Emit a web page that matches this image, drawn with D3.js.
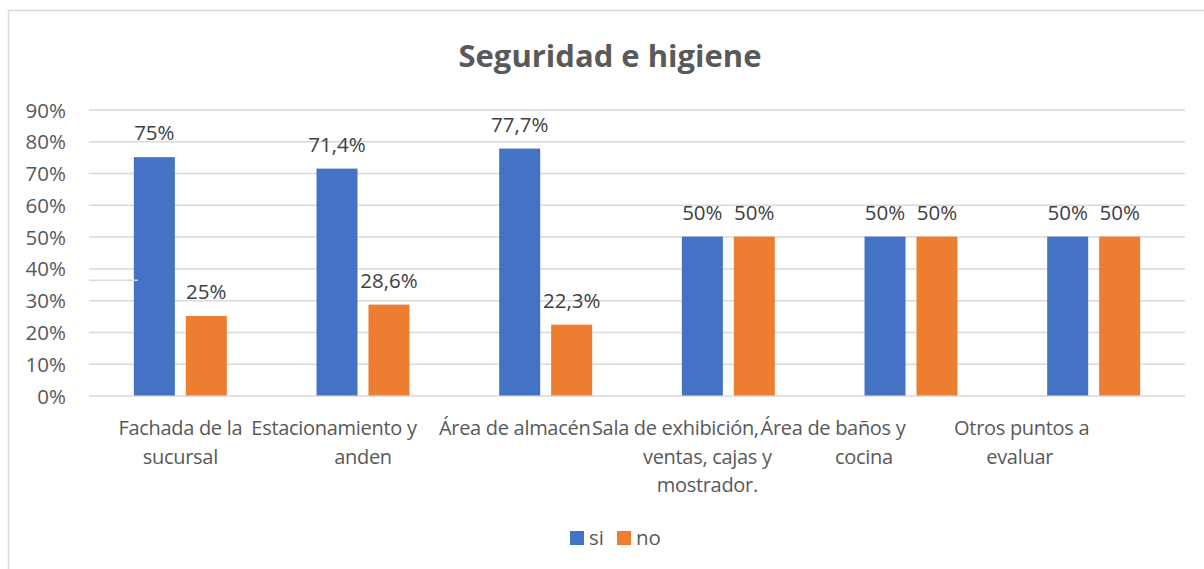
<!DOCTYPE html>
<html>
<head>
<meta charset="utf-8">
<script src="https://cdn.jsdelivr.net/npm/d3@7"></script>
<style>
  html, body { margin: 0; padding: 0; background: #fff; }
  svg { display: block; font-family: "Open Sans", sans-serif; }
</style>
</head>
<body>
<svg id="chart" width="1204" height="569"></svg>
<script>
// Chart data
const title = "Seguridad e higiene";
const categories = [
  "Fachada de la sucursal",
  "Estacionamiento y anden",
  "Área de almacén",
  "Sala de exhibición, ventas, cajas y mostrador.",
  "Área de baños y cocina",
  "Otros puntos a evaluar"
];
// Wrapped lines of each category label
const categoryLines = [
  ["Fachada de la", "sucursal"],
  ["Estacionamiento y", "anden"],
  ["Área de almacén"],
  ["Sala de exhibición,", "ventas, cajas y", "mostrador."],
  ["Área de baños y", "cocina"],
  ["Otros puntos a", "evaluar"]
];
const seriesNames = ["si", "no"];
const siValues = [0.75, 0.714, 0.777, 0.5, 0.5, 0.5];
const noValues = [0.25, 0.286, 0.223, 0.5, 0.5, 0.5];
const yTicks = [0, 0.1, 0.2, 0.3, 0.4, 0.5, 0.6, 0.7, 0.8, 0.9];

// Layout
const W = 1204, H = 569;
const plot = { left: 89, right: 1185, top: 109.5, bottom: 395.5 };
const colors = { si: "#4472C4", no: "#ED7D31" };
const gridColor = "#D9D9D9";
const axisText = "#595959";
const labelText = "#404040";
const fontSize = 20.5;
const catFontSize = 20;
// horizontal shift (px) applied to each wrapped label line
const lineShift = [
  [0, 0],
  [-29, 0],
  [-31],
  [-53, -21, -21],
  [-78, -47],
  [-72, -74]
];

const svg = d3.select("#chart");

const locale = d3.formatLocale({ decimal: ",", thousands: ".", grouping: [3], currency: ["", "€"] });
const fmtValue = locale.format(".1~%");
const fmtTick = locale.format(".0%");

const x = d3.scaleBand().domain(categories).range([plot.left, plot.right]).paddingInner(0).paddingOuter(0);
const y = d3.scaleLinear().domain([0, 0.9]).range([plot.bottom, plot.top]);

const bw = x.bandwidth();
const barW = bw * 0.2245;
const barGap = bw * 0.06;

// Outer frame
svg.append("rect")
  .attr("x", 8.5).attr("y", 10.5)
  .attr("width", W + 20).attr("height", H + 20)
  .attr("fill", "none").attr("stroke", gridColor).attr("stroke-width", 1.5);

// Title
svg.append("text")
  .attr("x", 610).attr("y", 67)
  .attr("text-anchor", "middle")
  .attr("font-size", 31).attr("font-weight", "bold")
  .attr("fill", axisText)
  .text(title);

// Gridlines and y tick labels
const yAxis = d3.axisLeft(y).tickValues(yTicks).tickFormat(fmtTick)
  .tickSize(-(plot.right - plot.left)).tickPadding(23);
const gy = svg.append("g").attr("transform", `translate(${plot.left},0)`).call(yAxis);
gy.select(".domain").remove();
gy.selectAll(".tick line").attr("stroke", gridColor).attr("stroke-width", 1.5);
gy.selectAll(".tick text")
  .attr("font-family", "Open Sans, sans-serif")
  .attr("font-size", fontSize).attr("fill", axisText)
  .attr("dy", null).attr("y", 7.5);

// Bars
const rows = categories.map((c, i) => ({ cat: c, si: siValues[i], no: noValues[i] }));
const barX = (d, key) => {
  const cx = x(d.cat) + bw / 2;
  return key === "si" ? cx - barGap / 2 - barW : cx + barGap / 2;
};

seriesNames.forEach(key => {
  svg.append("g").selectAll("rect")
    .data(rows).join("rect")
    .attr("x", d => barX(d, key))
    .attr("y", d => y(d[key]))
    .attr("width", barW)
    .attr("height", d => y(0) - y(d[key]))
    .attr("fill", colors[key]);
});

// short grey stroke left over across the first bar
svg.append("line")
  .attr("x1", plot.left).attr("x2", barX(rows[0], "si") + 4)
  .attr("y1", y(0.363)).attr("y2", y(0.363))
  .attr("stroke", gridColor).attr("stroke-width", 1.5);

// Value labels
seriesNames.forEach(key => {
  svg.append("g").selectAll("text")
    .data(rows).join("text")
    .attr("x", d => barX(d, key) + barW / 2)
    .attr("y", d => y(d[key]) - 17)
    .attr("text-anchor", "middle")
    .attr("font-size", fontSize).attr("fill", labelText)
    .text(d => fmtValue(d[key]));
});

// Category labels
const gx = svg.append("g");
categories.forEach((c, i) => {
  const cx = x(c) + bw / 2;
  categoryLines[i].forEach((line, j) => {
    gx.append("text")
      .attr("x", cx + lineShift[i][j])
      .attr("y", 435 + j * 28.5)
      .attr("text-anchor", "middle")
      .attr("font-size", catFontSize)
      .attr("letter-spacing", "-0.3px")
      .attr("fill", axisText)
      .text(line);
  });
});

// Legend
const legend = svg.append("g").attr("transform", "translate(570,531)");
const legendX = [0, 47];
seriesNames.forEach((key, i) => {
  const g = legend.append("g").attr("transform", `translate(${legendX[i]},0)`);
  g.append("rect").attr("width", 14).attr("height", 14).attr("fill", colors[key]);
  g.append("text").attr("x", 19).attr("y", 14)
    .attr("font-size", fontSize).attr("fill", axisText).text(key);
});
</script>
</body>
</html>
